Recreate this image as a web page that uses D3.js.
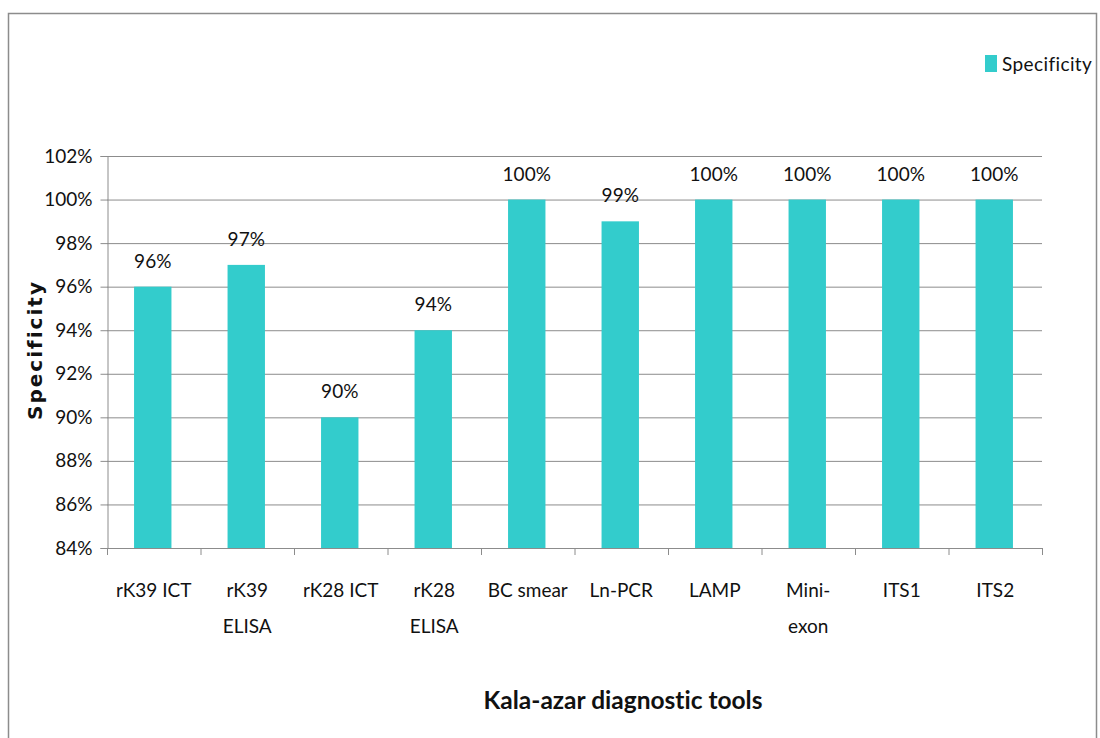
<!DOCTYPE html>
<html>
<head>
<meta charset="utf-8">
<script src="https://cdn.jsdelivr.net/npm/d3@7/dist/d3.min.js"></script>
<style>
  html, body { margin: 0; padding: 0; background: #fff; }
  svg { display: block; }
  text { font-family: Lato, "Open Sans", "Liberation Sans", sans-serif; fill: #111; font-variant-ligatures: none; }
  text.ytitle { font-family: "DejaVu Sans", Verdana, sans-serif; }
</style>
</head>
<body>
<svg id="chart" width="1100" height="738"></svg>
<script>
// Specificity of kala-azar diagnostic tools
const categories = [
  ["rK39 ICT"], ["rK39", "ELISA"], ["rK28 ICT"], ["rK28", "ELISA"], ["BC smear"],
  ["Ln-PCR"], ["LAMP"], ["Mini-", "exon"], ["ITS1"], ["ITS2"]
];
const specificity = [96, 97, 90, 94, 100, 99, 100, 100, 100, 100];
const yTicks = [84, 86, 88, 90, 92, 94, 96, 98, 100, 102];
const seriesName = "Specificity";
const barColor = "#33cccc";

const svg = d3.select("#chart");

// outer frame
svg.append("path")
  .attr("d", "M8.5,745 V13.5 H1096.5 V745")
  .attr("fill", "none").attr("stroke", "#8c8c8c").attr("stroke-width", 1.5);

const plot = { left: 107, right: 1042, top: 156, bottom: 548 };

const x = d3.scaleBand()
  .domain(d3.range(categories.length))
  .range([plot.left, plot.right])
  .paddingInner(0.6).paddingOuter(0.3);

const xOuter = d3.scaleBand()
  .domain(d3.range(categories.length))
  .range([plot.left, plot.right]);

const y = d3.scaleLinear().domain([84, 102]).range([plot.bottom, plot.top]);

// gridlines
svg.append("g").selectAll("line").data(yTicks.slice(1)).join("line")
  .attr("x1", plot.left).attr("x2", plot.right)
  .attr("y1", d => y(d) + 0.5).attr("y2", d => y(d) + 0.5)
  .attr("stroke", "#8c8c8c").attr("stroke-width", 1);

// y axis
const yAxis = svg.append("g")
  .attr("transform", `translate(${plot.left + 0.5},0)`)
  .call(d3.axisLeft(y).tickValues(yTicks).tickSize(7).tickPadding(8).tickFormat(d => d + "%"));
yAxis.select(".domain").attr("stroke", "#8c8c8c");
yAxis.selectAll(".tick line").attr("stroke", "#8c8c8c");
yAxis.selectAll(".tick text").attr("font-size", 19).attr("fill", "#111");

// x axis line and boundary ticks
svg.append("line")
  .attr("x1", plot.left).attr("x2", plot.right)
  .attr("y1", plot.bottom + 0.5).attr("y2", plot.bottom + 0.5)
  .attr("stroke", "#8c8c8c");
const bounds = d3.range(categories.length + 1).map(i =>
  i < categories.length ? xOuter(i) : xOuter(i - 1) + xOuter.bandwidth());
svg.append("g").selectAll("line").data(bounds).join("line")
  .attr("x1", d => d + 0.5).attr("x2", d => d + 0.5)
  .attr("y1", plot.bottom).attr("y2", plot.bottom + 7)
  .attr("stroke", "#8c8c8c");

// bars
svg.append("g").selectAll("rect").data(specificity).join("rect")
  .attr("x", (d, i) => x(i) - 1)
  .attr("width", x.bandwidth())
  .attr("y", d => y(d))
  .attr("height", d => y(84) - y(d))
  .attr("fill", barColor);

// value labels
svg.append("g").selectAll("text").data(specificity).join("text")
  .attr("x", (d, i) => x(i) + x.bandwidth() / 2 - 1)
  .attr("y", d => y(d) - 19)
  .attr("text-anchor", "middle")
  .attr("font-size", 19)
  .text(d => d + "%");

// category labels
const catG = svg.append("g").selectAll("text").data(categories).join("text")
  .attr("x", (d, i) => xOuter(i) + xOuter.bandwidth() / 2)
  .attr("y", 597)
  .attr("text-anchor", "middle")
  .attr("font-size", 19);
catG.selectAll("tspan").data(d => d).join("tspan")
  .attr("x", function () { return d3.select(this.parentNode).attr("x"); })
  .attr("dy", (d, i) => i === 0 ? 0 : 36)
  .text(d => d);

// axis titles
svg.append("text")
  .attr("class", "ytitle")
  .attr("transform", `translate(42,${(plot.top + plot.bottom) / 2 - 2}) rotate(-90)`)
  .attr("text-anchor", "middle")
  .attr("font-weight", "bold")
  .attr("font-size", 20)
  .attr("letter-spacing", 2)
  .text("Specificity");

svg.append("text")
  .attr("x", 623).attr("y", 709)
  .attr("text-anchor", "middle")
  .attr("font-weight", "bold")
  .attr("font-size", 24.5)
  .text("Kala-azar diagnostic tools");

// legend
const legend = svg.append("g").attr("transform", "translate(985,55)");
legend.append("rect").attr("width", 12).attr("height", 17).attr("fill", barColor);
legend.append("text").attr("x", 17).attr("y", 16).attr("font-size", 19).attr("letter-spacing", 0.4).text(seriesName);
</script>
</body>
</html>
